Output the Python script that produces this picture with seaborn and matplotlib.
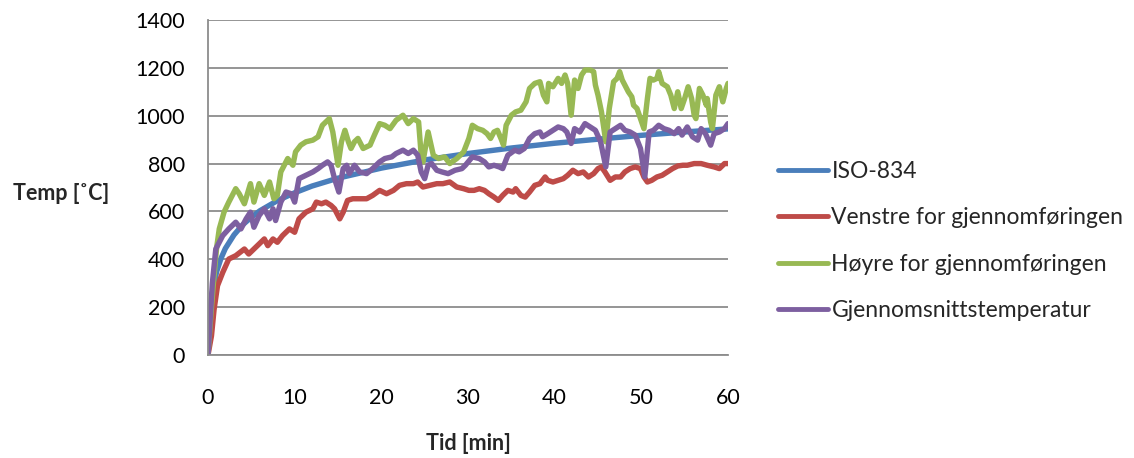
import numpy as np
import pandas as pd
import matplotlib
matplotlib.use("Agg")
import matplotlib.pyplot as plt
import seaborn as sns

# ISO-834 standard curve
iso_t = [0, 0.25, 0.5, 1, 1.5, 2, 3, 4, 5, 6, 8, 10, 12, 15, 20, 25, 30, 35, 40, 45, 50, 55, 60]
iso_v = [20, 185, 261, 349, 404, 445, 502, 544, 576, 603, 645, 678, 706, 739, 781, 815, 842, 865, 885, 902, 918, 932, 945]

# Venstre for gjennomføringen
red_t = [0, 0.4, 0.7, 1.1, 1.7, 2.4, 3.2, 4.2, 4.7, 5.3, 5.9, 6.5, 6.9, 7.5, 8.0, 8.6, 9.4, 10.0, 10.5, 11.3,
         12.1, 12.5, 13.1, 13.6, 14.2, 14.6, 15.2, 15.6, 16.1, 16.7, 17.5, 18.3, 19.0, 19.8, 20.6, 21.4, 22.1,
         22.9, 23.7, 24.2, 24.8, 25.6, 26.4, 27.1, 27.9, 28.7, 29.5, 30.1, 30.7, 31.3, 31.9, 32.4, 33.0, 33.5,
         34.0, 34.6, 35.2, 35.5, 36.1, 36.6, 37.1, 37.7, 38.3, 38.9, 39.2, 39.8, 40.4, 41.0, 41.5, 42.1, 42.7,
         43.3, 43.9, 44.5, 45.0, 45.4, 45.8, 46.4, 47.0, 47.6, 48.1, 48.7, 49.3, 49.9, 50.3, 50.7, 51.2, 51.8,
         52.4, 53.0, 53.6, 54.2, 54.8, 55.3, 56.1, 56.9, 57.6, 58.4, 59.0, 59.6, 60.0]
red_v = [0, 80, 190, 290, 345, 401, 415, 443, 422, 443, 464, 485, 457, 485, 471, 499, 527, 513, 569, 597,
         611, 639, 632, 639, 625, 611, 569, 597, 646, 653, 653, 653, 667, 688, 674, 688, 709,
         716, 716, 723, 702, 709, 716, 716, 723, 702, 695, 688, 688, 695, 688, 674, 660, 646,
         667, 688, 681, 695, 667, 660, 681, 709, 716, 744, 730, 723, 730, 737, 751, 772, 758,
         765, 744, 758, 779, 786, 765, 730, 744, 744, 765, 779, 786, 779, 744, 723, 730, 744,
         751, 765, 779, 790, 793, 793, 800, 800, 793, 786, 779, 800, 800]

# Høyre for gjennomføringen
green_t = [0, 0.4, 0.7, 1.0, 1.3, 1.85, 2.4, 3.2, 3.6, 4.2, 4.9, 5.3, 5.9, 6.5, 7.1, 7.6, 8.0, 8.4, 9.2, 9.8,
           10.1, 10.7, 11.3, 12.1, 12.7, 13.2, 14.0, 14.4, 15.0, 15.4, 15.8, 16.2, 16.5, 16.9, 17.3, 17.9,
           18.7, 19.2, 19.8, 20.4, 21.0, 21.7, 22.5, 23.1, 23.7, 24.3, 24.6, 24.8, 25.4, 26.0, 26.6, 27.3,
           27.9, 28.7, 29.5, 30.1, 30.5, 31.1, 31.7, 32.2, 32.6, 33.0, 33.4, 33.8, 34.1, 34.4, 35.0, 35.5,
           36.1, 36.7, 37.1, 37.7, 38.3, 38.7, 39.1, 39.3, 39.8, 40.4, 40.8, 41.2, 41.5, 41.9, 42.3, 42.7,
           43.1, 43.5, 44.1, 44.5, 44.7, 45.0, 45.4, 45.9, 46.3, 46.8, 47.2, 47.5, 47.8, 48.1, 48.5, 48.9,
           49.1, 49.5, 49.9, 50.3, 50.7, 51.0, 51.4, 51.8, 52.0, 52.4, 53.0, 53.4, 53.8, 54.2, 54.6, 55.0,
           55.4, 55.8, 56.1, 56.3, 56.7, 57.1, 57.5, 57.6, 58.0, 58.2, 58.6, 59.0, 59.4, 59.8, 60.0]
green_v = [0, 200, 331, 450, 527, 597, 639, 695, 674, 632, 716, 639, 716, 667, 723, 653, 667, 765, 821, 793,
           849, 877, 891, 898, 912, 960, 988, 932, 793, 891, 939, 891, 863, 891, 905, 863,
           877, 919, 967, 960, 946, 981, 1002, 967, 988, 974, 835, 807, 932, 835, 821, 828,
           800, 821, 849, 905, 960, 946, 939, 925, 905, 932, 939, 905, 877, 960, 1002, 1016,
           1023, 1058, 1114, 1135, 1142, 1086, 1058, 1135, 1121, 1156, 1135, 1170, 1135, 1002, 1149, 1114,
           1170, 1191, 1191, 1184, 1128, 1086, 1016, 891, 1030, 1142, 1156, 1184, 1149, 1128, 1100, 1079,
           1044, 1030, 988, 946, 1072, 1156, 1149, 1156, 1184, 1135, 1121, 1086, 1030, 1100, 1030, 1072,
           1121, 1072, 1002, 988, 1114, 1086, 1044, 1072, 974, 946, 1086, 1121, 1058, 1114, 1135]

# Gjennomsnittstemperatur
purple_t = [0, 0.5, 0.9, 1.7, 2.4, 3.2, 3.8, 4.4, 4.9, 5.3, 5.9, 6.5, 7.1, 7.5, 7.8, 8.4, 9.0, 9.6, 10.0, 10.5,
            11.3, 12.1, 12.7, 13.2, 13.8, 14.2, 14.6, 15.1, 15.6, 16.0, 16.3, 16.9, 17.5, 18.3, 19.0, 19.8,
            20.4, 21.2, 21.7, 22.5, 23.1, 23.7, 24.2, 24.6, 25.0, 25.4, 25.8, 26.4, 27.0, 27.7, 28.5, 29.3,
            29.7, 30.5, 31.3, 31.9, 32.4, 33.0, 33.6, 34.0, 34.6, 35.4, 35.9, 36.5, 37.1, 37.7, 38.3, 38.6,
            39.2, 39.8, 40.4, 41.0, 41.4, 41.9, 42.3, 42.9, 43.5, 44.1, 44.7, 45.3, 45.9, 46.4, 47.0, 47.6,
            48.1, 48.7, 49.3, 49.9, 50.4, 50.9, 51.4, 52.0, 52.6, 53.2, 53.8, 54.3, 54.7, 55.3, 55.9, 56.5,
            56.9, 57.4, 58.0, 58.4, 59.0, 59.6, 60.0]
purple_v = [0, 300, 443, 499, 527, 555, 527, 569, 597, 534, 583, 611, 569, 611, 562, 639, 681, 674, 639, 737,
            751, 765, 779, 793, 807, 793, 737, 681, 779, 793, 758, 793, 765, 758, 779, 807,
            821, 828, 842, 856, 842, 856, 835, 765, 737, 793, 800, 772, 765, 758, 772, 779,
            793, 828, 821, 807, 786, 793, 786, 779, 835, 856, 849, 863, 905, 925, 932, 912,
            925, 939, 953, 946, 932, 884, 946, 932, 967, 953, 939, 891, 786, 932, 946, 960,
            939, 932, 919, 863, 744, 932, 939, 960, 946, 939, 925, 946, 919, 953, 912, 898,
            946, 925, 877, 925, 932, 946, 967]

labels = ["ISO-834", "Venstre for gjennomføringen", "Høyre for gjennomføringen", "Gjennomsnittstemperatur"]
colors = ["#4A7EBB", "#BE4B48", "#98B954", "#7D5FA0"]

sns.set_style("white")
plt.rcParams['font.family'] = ['Lato', 'DejaVu Sans']

fig = plt.figure(figsize=(11.34, 4.58), dpi=100)
ax = fig.add_axes([208 / 1134, 103 / 458, 520 / 1134, 335 / 458])

series = [(iso_t, iso_v), (red_t, red_v), (green_t, green_v), (purple_t, purple_v)]
for (t, v), lab, c in zip(series, labels, colors):
    sns.lineplot(x=t, y=v, ax=ax, color=c, linewidth=3.9, label=lab,
                 solid_capstyle='round', solid_joinstyle='round')

ax.set_xlim(0, 60)
ax.set_ylim(0, 1400)
ax.set_xticks(range(0, 61, 10))
ax.set_yticks(range(0, 1401, 200))
ax.yaxis.grid(True, color='#8c8c8c', linewidth=1.3)
ax.set_axisbelow(True)
for s in ['top', 'right']:
    ax.spines[s].set_visible(False)
for s in ['left', 'bottom']:
    ax.spines[s].set_color('#8c8c8c')
    ax.spines[s].set_linewidth(1.3)
ax.tick_params(axis='both', direction='out', length=5.5, width=1.3, color='#8c8c8c',
               labelsize=15.5, labelcolor='black')
ax.tick_params(axis='y', pad=11)
ax.tick_params(axis='x', pad=18)
ax.set_xlabel("")
ax.set_ylabel("")

fig.text(61 / 1134, 1 - 193 / 458, "Temp [˚C]", ha='center', va='center', fontsize=15.5, fontweight='bold')
fig.text(468 / 1134, 1 - 443 / 458, "Tid [min]", ha='center', va='center', fontsize=15.5, fontweight='bold')

leg = ax.legend(loc='center left', bbox_to_anchor=(778 / 1134, 217 / 458), bbox_transform=fig.transFigure,
                frameon=False, fontsize=16.5, handlelength=2.2, handletextpad=0.13,
                labelspacing=1.1, borderpad=0, borderaxespad=0)
for line in leg.get_lines():
    line.set_linewidth(3.5)

fig.savefig("out.png", dpi=100)
